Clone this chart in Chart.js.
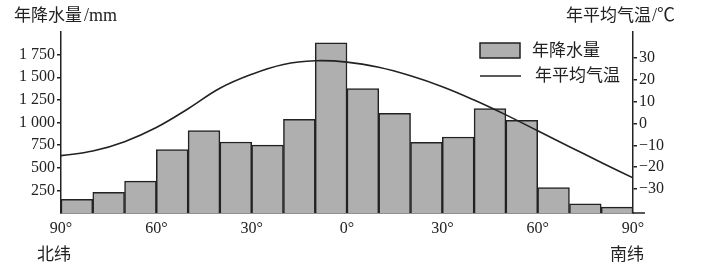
<!DOCTYPE html>
<html>
<head>
<meta charset="utf-8">
<script src="https://cdn.jsdelivr.net/npm/chart.js@4/dist/chart.umd.min.js"></script>
<style>
  html, body { margin: 0; padding: 0; background: #fff; }
  #wrap { width: 704px; height: 270px; position: relative; }
</style>
</head>
<body>
<div id="wrap"><canvas id="chart" width="704" height="270"></canvas></div>
<script>
'use strict';

// latitude bands, 10 degrees each, from 90N to 90S
const bandCenters = [5, 15, 25, 35, 45, 55, 65, 75, 85, 95, 105, 115, 125, 135, 145, 155, 165, 175];
const precipitation = [150, 228, 353, 700, 910, 785, 750, 1035, 1880, 1375, 1100, 780, 840, 1155, 1025, 280, 100, 65];

// temperature curve, read every 10 degrees from 90N to 90S
const tempPositions = [0, 10, 20, 30, 40, 50, 60, 70, 80, 90, 100, 110, 120, 130, 140, 150, 160, 170, 180];
const temperature = [-14.7, -12.6, -8.3, -1.8, 6.8, 16.2, 22.6, 27.1, 28.8, 28.2, 25.8, 21.9, 16.9, 10.8, 4.0, -3.3, -10.6, -17.8, -24.9];

const xTickValues = [0, 30, 60, 90, 120, 150, 180];
const xTickLabels = ['90°', '60°', '30°', '0°', '30°', '60°', '90°'];
const precipTicks = [250, 500, 750, 1000, 1250, 1500, 1750];
const precipTickLabels = ['250', '500', '750', '1 000', '1 250', '1 500', '1 750'];
const tempTicks = [-30, -20, -10, 0, 10, 20, 30];

const ink = '#222';
const barFill = '#afafaf';
const serif = "'Liberation Serif', 'Noto Sans CJK SC', serif";
const cjk = "'Noto Sans CJK SC', sans-serif";

const decorations = {
  id: 'decorations',
  afterDraw(chart) {
    const ctx = chart.ctx;
    const area = chart.chartArea;
    ctx.save();
    ctx.fillStyle = ink;
    ctx.strokeStyle = ink;

    // x axis line runs a bit past the right axis
    ctx.lineWidth = 1.5;
    ctx.beginPath();
    ctx.moveTo(area.right, area.bottom);
    ctx.lineTo(area.right + 12, area.bottom);
    ctx.stroke();

    // axis titles
    ctx.textBaseline = 'middle';
    ctx.textAlign = 'left';
    ctx.font = '17px ' + cjk;
    ctx.fillText('年降水量', 14, 15);
    ctx.font = '18px ' + serif;
    ctx.fillText('/mm', 84, 16);
    ctx.font = '17px ' + cjk;
    ctx.fillText('年平均气温', 566, 15);
    ctx.font = '18px ' + serif;
    ctx.fillText('/℃', 652, 16);

    // hemisphere names
    ctx.textAlign = 'center';
    ctx.font = '17px ' + cjk;
    ctx.fillText('北纬', 54, 254);
    ctx.fillText('南纬', 627, 254);

    // legend
    ctx.textAlign = 'left';
    ctx.fillStyle = barFill;
    ctx.fillRect(480, 43, 40, 15);
    ctx.lineWidth = 1.5;
    ctx.strokeRect(480, 43, 40, 15);
    ctx.beginPath();
    ctx.moveTo(480, 76);
    ctx.lineTo(521, 76);
    ctx.stroke();
    ctx.fillStyle = ink;
    ctx.fillText('年降水量', 532, 50);
    ctx.fillText('年平均气温', 535, 75);
    ctx.restore();
  }
};

const ctx = document.getElementById('chart').getContext('2d');
new Chart(ctx, {
  data: {
    datasets: [
      {
        type: 'line',
        label: '年平均气温',
        data: tempPositions.map((x, i) => ({ x: x, y: temperature[i] })),
        yAxisID: 'y1',
        borderColor: ink,
        borderWidth: 1.6,
        pointRadius: 0,
        tension: 0.4,
        fill: false
      },
      {
        type: 'bar',
        label: '年降水量',
        data: bandCenters.map((x, i) => ({ x: x, y: precipitation[i] })),
        yAxisID: 'y',
        backgroundColor: barFill,
        borderColor: ink,
        borderWidth: 1.5,
        barPercentage: 1,
        categoryPercentage: 1
      }
    ]
  },
  options: {
    responsive: false,
    animation: false,
    events: [],
    layout: { padding: { top: 32, left: 0, right: 0, bottom: 0 } },
    plugins: {
      legend: { display: false },
      tooltip: { enabled: false }
    },
    scales: {
      x: {
        type: 'linear',
        min: 0,
        max: 180,
        offset: false,
        grid: { display: false, offset: false, drawTicks: false, tickLength: 0 },
        border: { display: true, color: ink, width: 1.5 },
        afterBuildTicks: (scale) => { scale.ticks = xTickValues.map(v => ({ value: v })); },
        afterFit: (scale) => { scale.height = 57; },
        ticks: {
          padding: 6,
          color: ink,
          font: { family: serif, size: 16 },
          maxRotation: 0,
          callback: (v, i) => xTickLabels[i]
        }
      },
      y: {
        position: 'left',
        min: 0,
        max: 2000,
        grid: { display: true, drawOnChartArea: false, drawTicks: true, tickLength: 4, color: ink, lineWidth: 1.5 },
        border: { display: true, color: ink, width: 1.5 },
        afterBuildTicks: (scale) => { scale.ticks = precipTicks.map(v => ({ value: v })); },
        afterFit: (scale) => { scale.width = 61; },
        ticks: {
          padding: 2,
          color: ink,
          font: { family: serif, size: 16 },
          callback: (v, i) => precipTickLabels[i]
        }
      },
      y1: {
        position: 'right',
        min: -41,
        max: 42,
        grid: { display: true, drawOnChartArea: false, drawTicks: true, tickLength: 4, color: ink, lineWidth: 1.5 },
        border: { display: true, color: ink, width: 1.5 },
        afterBuildTicks: (scale) => { scale.ticks = tempTicks.map(v => ({ value: v })); },
        afterFit: (scale) => { scale.width = 71; },
        ticks: {
          padding: 2,
          color: ink,
          font: { family: serif, size: 16 },
          callback: (v) => (v < 0 ? '\u2212' + Math.abs(v) : String(v))
        }
      }
    }
  },
  plugins: [decorations]
});
</script>
</body>
</html>
